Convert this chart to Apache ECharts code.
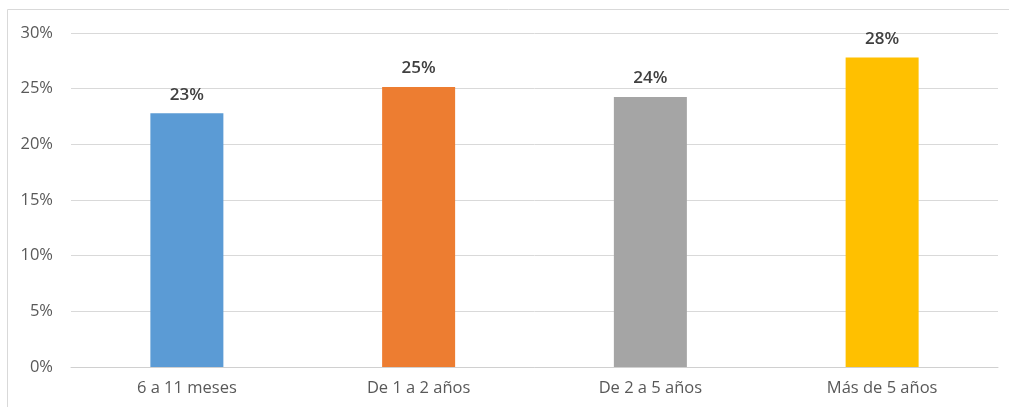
<!DOCTYPE html>
<html>
<head>
<meta charset="utf-8">
<script src="https://cdn.jsdelivr.net/npm/echarts@6/dist/echarts.min.js"></script>
<style>
  html, body { margin: 0; padding: 0; background: #fff; }
  #chart { width: 1009px; height: 407px; }
</style>
</head>
<body>
<div id="chart"></div>
<script>
// data
var categories = ["6 a 11 meses", "De 1 a 2 años", "De 2 a 5 años", "Más de 5 años"];
var values = [22.8, 25.15, 24.25, 27.8];
var colors = ["#5B9BD5", "#ED7D31", "#A5A5A5", "#FFC000"];
var yTicks = [0, 5, 10, 15, 20, 25, 30];

function draw()
{
    var myChart = echarts.init(document.getElementById('chart'));

    var option = {
        animation: false,
        textStyle: { fontFamily: 'Open Sans' },
        graphic: [{
            type: 'rect',
            shape: { x: 7.5, y: 9.5, width: 1010, height: 410 },
            style: { fill: 'none', stroke: '#d9d9d9', lineWidth: 1 },
            silent: true
        }],
        grid: { left: 71, right: 11, top: 33, bottom: 40 },
        xAxis: {
            type: 'category',
            data: categories,
            axisLine: { lineStyle: { color: '#d0d0d0', width: 1 } },
            axisTick: { show: false },
            axisLabel: { color: '#595959', fontSize: 16.5, margin: 13 }
        },
        yAxis: {
            type: 'value',
            min: yTicks[0],
            max: yTicks[yTicks.length - 1],
            interval: 5,
            axisLine: { show: false },
            axisTick: { show: false },
            splitLine: { lineStyle: { color: '#d9d9d9', width: 1 } },
            axisLabel: { color: '#595959', fontSize: 16.5, margin: 18,
                formatter: function (v) { return v + '%'; } }
        },
        series: [{
            type: 'bar',
            barWidth: '31.5%',
            data: values.map(function (v, i) {
                return { value: v, itemStyle: { color: colors[i] } };
            }),
            label: {
                show: true,
                position: 'top',
                distance: 10,
                color: '#404040',
                fontSize: 17,
                fontWeight: 600,
                formatter: function (p) { return Math.round(p.value) + '%'; }
            }
        }]
    };

    myChart.setOption(option);
}

draw()
</script>
</body>
</html>
